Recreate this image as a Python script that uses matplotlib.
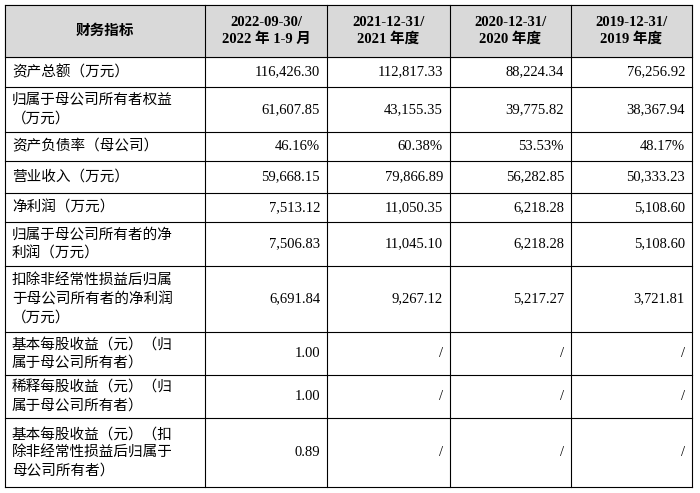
import matplotlib
matplotlib.use("Agg")
import matplotlib.pyplot as plt

headers = ["财务指标", "2022-09-30/\n2022 年 1-9 月", "2021-12-31/\n2021 年度", "2020-12-31/\n2020 年度", "2019-12-31/\n2019 年度"]
row_labels = ["资产总额（万元）", "归属于母公司所有者权益\n（万元）", "资产负债率（母公司）", "营业收入（万元）", "净利润（万元）",
              "归属于母公司所有者的净\n利润（万元）", "扣除非经常性损益后归属\n于母公司所有者的净利润\n（万元）",
              "基本每股收益（元）（归\n属于母公司所有者）", "稀释每股收益（元）（归\n属于母公司所有者）",
              "基本每股收益（元）（扣\n除非经常性损益后归属于\n母公司所有者）"]
col_2022 = ["116,426.30", "61,607.85", "46.16%", "59,668.15", "7,513.12", "7,506.83", "6,691.84", "1.00", "1.00", "0.89"]
col_2021 = ["112,817.33", "43,155.35", "60.38%", "79,866.89", "11,050.35", "11,045.10", "9,267.12", "/", "/", "/"]
col_2020 = ["88,224.34", "39,775.82", "53.53%", "56,282.85", "6,218.28", "6,218.28", "5,217.27", "/", "/", "/"]
col_2019 = ["76,256.92", "38,367.94", "48.17%", "50,333.23", "5,108.60", "5,108.60", "3,721.81", "/", "/", "/"]

xs = [5, 205, 327, 450, 571, 692]
ys = [5, 57, 87, 132, 161, 193, 222, 266, 332, 375, 418, 487]
fam = ["Liberation Serif", "Noto Sans CJK SC"]

fig = plt.figure(figsize=(7, 4.93), dpi=100)
ax = fig.add_axes([0, 0, 1, 1])
ax.set_xlim(0, 700); ax.set_ylim(493, 0); ax.axis("off")
ax.add_patch(plt.Rectangle((xs[0], ys[0]), xs[-1]-xs[0], ys[1]-ys[0], color="#d9d9d9", zorder=0))
for x in xs:
    ax.plot([x, x], [ys[0], ys[-1]], color="black", lw=0.8)
for y in ys:
    ax.plot([xs[0], xs[-1]], [y, y], color="black", lw=0.8)

for i, h in enumerate(headers):
    ax.text((xs[i]+xs[i+1])/2, (ys[0]+ys[1])/2, h, ha="center", va="center", fontsize=10.5,
            fontweight="bold", family=fam, linespacing=1.3)
cols = [col_2022, col_2021, col_2020, col_2019]
for r, lab in enumerate(row_labels):
    yc = (ys[r+1]+ys[r+2])/2
    ax.text(xs[0]+7, yc, lab, ha="left", va="center", fontsize=10.5, family=fam, linespacing=1.4)
    for c, col in enumerate(cols):
        ax.text(xs[c+2]-7, yc, col[r], ha="right", va="center", fontsize=10.5, family=fam)
fig.savefig("out.png")
